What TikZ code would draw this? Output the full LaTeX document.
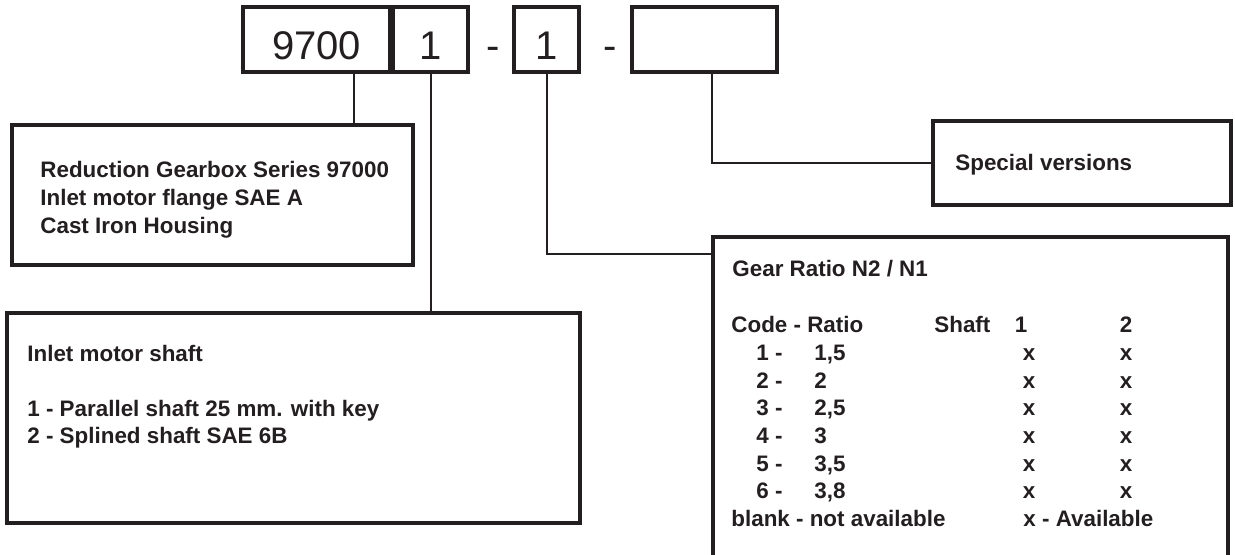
\documentclass[tikz,border=0pt]{standalone}
\usepackage{fontspec}
\setmainfont{Liberation Sans}
\usetikzlibrary{fit}
\definecolor{ink}{RGB}{35,31,32}
\tikzset{
  codebox/.style={draw=ink, line width=1.7pt, inner sep=0pt},
  descbox/.style={draw=ink, line width=2pt, inner sep=0pt},
  codetxt/.style={font=\fontsize{20}{24}\selectfont, text=ink, inner sep=0pt, anchor=base},
  desctxt/.style={font=\bfseries\fontsize{11.2}{14}\selectfont, text=ink, inner sep=0pt, anchor=base west},
  lead/.style={draw=ink, line width=1pt},
}
\begin{document}
\begin{tikzpicture}[x=0.5pt, y=-0.5pt]
        \useasboundingbox (0,0) rectangle (1235,555);
        \clip (0,0) rectangle (1235,555);
        \node[codebox, fit={(243,7) (390,72)}] (series) {};
        \node[codebox, fit={(393,7) (468,72)}] (shaft) {};
        \node[codebox, fit={(514,7) (579,72)}] (ratio) {};
        \node[codebox, fit={(632,7) (777,72)}] (special) {};
        \node[codetxt] (series-txt) at (series.center |- 0,60) {9700};
        \node[codetxt] (shaft-txt) at (shaft.center |- 0,60) {1};
        \node[codetxt] (dash-a) at (493,60) {-};
        \node[codetxt] (ratio-txt) at (ratio.center |- 0,60) {1};
        \node[codetxt] (dash-b) at (610,60) {-};
        \node[descbox, fit={(12,125) (413,265)}] (seriesdesc) {};
        \node[descbox, fit={(7,313.5) (580,522.5)}] (shaftdesc) {};
        \node[descbox, fit={(933,121) (1231,205)}] (specialdesc) {};
        \node[descbox, fit={(713,237.5) (1228,620)}] (ratiodesc) {};
        \coordinate (series-tap) at (354,72);
        \coordinate (special-tap) at (712,72);
        \coordinate (ratio-in) at (713,254);
        \draw[lead] (series-tap) -- (series-tap |- seriesdesc.north);
        \draw[lead] (shaft.south) -- (shaft.south |- shaftdesc.north);
        \draw[lead] (ratio.south) |- (ratio-in);
        \draw[lead] (special-tap) |- (specialdesc.west);
        \foreach \line [count=\i] in {Reduction Gearbox Series 97000, Inlet motor flange SAE A, Cast Iron Housing}
            \node[desctxt] (series-\i) at (40,150+28*\i) {\line};
        \node[desctxt] (shaft-1) at (27,361) {Inlet motor shaft};
        \node[desctxt] (shaft-2) at (27,416) {1 - Parallel shaft 25 mm. with key};
        \node[desctxt] (shaft-3) at (27,443.5) {2 - Splined shaft SAE 6B};
        \node[desctxt] (special-1) at (955,171) {Special versions};
        \node[desctxt] (ratio-title) at (732,277) {Gear Ratio N2 / N1};
        \node[desctxt] (ratio-head) at (731,333) {Code - Ratio};
        \node[desctxt] (shaft-head) at (934,333) {Shaft};
        \node[desctxt, anchor=base] (one-head) at (1021,333) {1};
        \node[desctxt, anchor=base] (two-head) at (1126,333) {2};
        \foreach \code/\val [count=\i] in {1/{1,5}, 2/2, 3/{2,5}, 4/3, 5/{3,5}, 6/{3,8}} {
            \node[desctxt] (code-\i) at (756,333+27.6*\i) {\code\ -};
            \node[desctxt] (val-\i) at (814,333+27.6*\i) {\val};
            \node[desctxt, anchor=base] (one-\i) at (1029,333+27.6*\i) {x};
            \node[desctxt, anchor=base] (two-\i) at (1126,333+27.6*\i) {x};
        }
        \node[desctxt] (blank-note) at (731,526.2) {blank - not available};
        \node[desctxt] (avail-note) at (1023,526.2) {x - Available};
    \end{tikzpicture}
\end{document}
